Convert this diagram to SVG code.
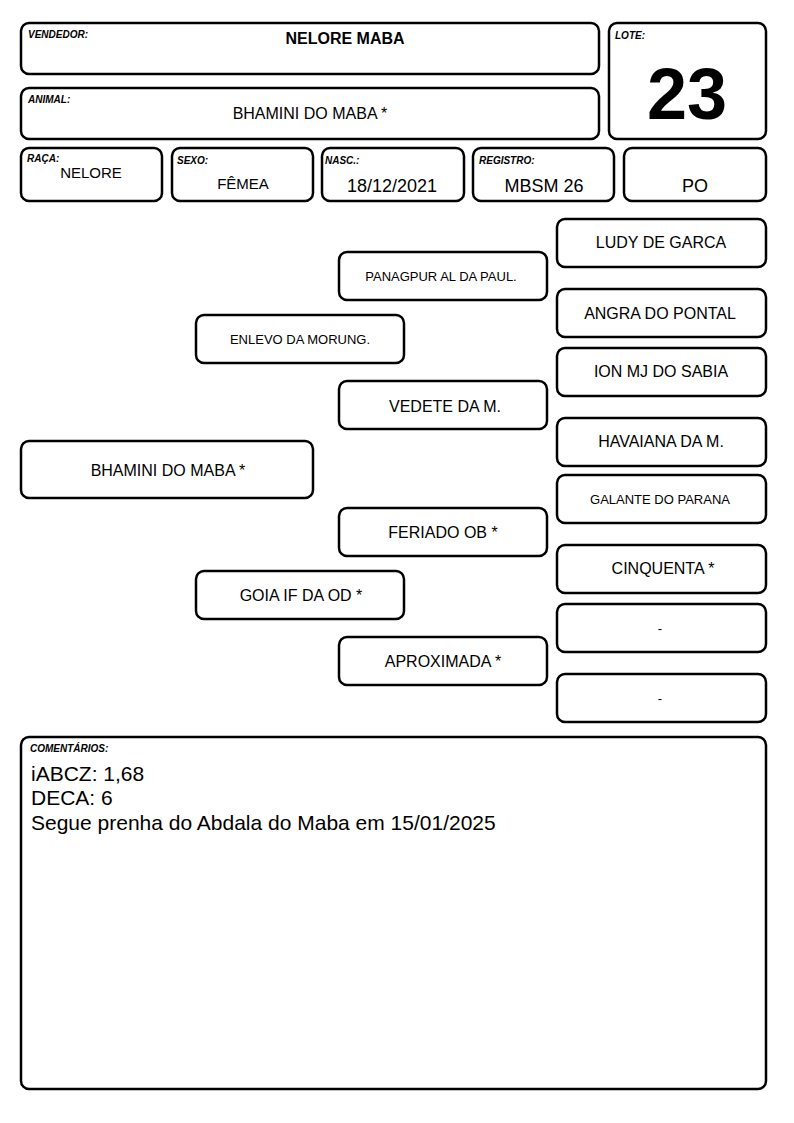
<svg xmlns="http://www.w3.org/2000/svg" width="794" height="1123" viewBox="0 0 794 1123">
<style>
.b{fill:#fff;stroke:#000;stroke-width:2.5}
.l{font-family:"Liberation Sans",Arial,sans-serif;font-size:10px;font-weight:bold;font-style:italic;fill:#000}
.t{font-family:"Liberation Sans",Arial,sans-serif;fill:#000;text-anchor:middle}
.s13{font-size:13px}.s15{font-size:15px}.s16{font-size:16px}.s18{font-size:18px}
.c{font-family:"Liberation Sans",Arial,sans-serif;font-size:21px;fill:#000}
</style>
<rect width="794" height="1123" fill="#fff"/>
<g id="vendedor"><rect class="b" x="21" y="23" width="578" height="51" rx="8"/><text class="l" x="28" y="38">VENDEDOR:</text><text class="t s16" x="345" y="44" font-weight="bold">NELORE MABA</text></g>
<g id="lote"><rect class="b" x="609" y="23" width="157" height="116" rx="8"/><text class="l" x="615" y="39">LOTE:</text><text class="t" x="687" y="119" font-size="72" font-weight="bold">23</text></g>
<g id="animal"><rect class="b" x="21" y="88" width="578" height="51" rx="8"/><text class="l" x="28" y="103">ANIMAL:</text><text class="t s16" x="310" y="119">BHAMINI DO MABA *</text></g>
<g id="raca"><rect class="b" x="21" y="148" width="141" height="53" rx="8"/><text class="l" x="27" y="162">RAÇA:</text><text class="t s15" x="91" y="178">NELORE</text></g>
<g id="sexo"><rect class="b" x="172" y="148" width="141" height="53" rx="8"/><text class="l" x="177" y="164">SEXO:</text><text class="t s15" x="243" y="189">FÊMEA</text></g>
<g id="nasc"><rect class="b" x="322" y="148" width="142" height="53" rx="8"/><text class="l" x="325" y="164">NASC.:</text><text class="t s18" x="392" y="192">18/12/2021</text></g>
<g id="registro"><rect class="b" x="473" y="148" width="141" height="53" rx="8"/><text class="l" x="479" y="164">REGISTRO:</text><text class="t s18" x="544" y="192">MBSM 26</text></g>
<g id="po"><rect class="b" x="624" y="148" width="142" height="53" rx="8"/><text class="t s18" x="695" y="192">PO</text></g>
<g id="connectors"></g>
<g id="n-bhamini"><rect class="b" x="21" y="441" width="292" height="57" rx="8"/><text class="t s16" x="168" y="476">BHAMINI DO MABA *</text></g>
<g id="n-enlevo"><rect class="b" x="196" y="315" width="208" height="48" rx="8"/><text class="t s13" x="300" y="344">ENLEVO DA MORUNG.</text></g>
<g id="n-goia"><rect class="b" x="196" y="571" width="208" height="48" rx="8"/><text class="t s16" x="301" y="601">GOIA IF DA OD *</text></g>
<g id="n-panagpur"><rect class="b" x="339" y="252" width="208" height="48" rx="8"/><text class="t s13" x="441" y="281">PANAGPUR AL DA PAUL.</text></g>
<g id="n-vedete"><rect class="b" x="339" y="381" width="208" height="48" rx="8"/><text class="t s16" x="445" y="412">VEDETE DA M.</text></g>
<g id="n-feriado"><rect class="b" x="339" y="508" width="208" height="48" rx="8"/><text class="t s16" x="443" y="538">FERIADO OB *</text></g>
<g id="n-aproximada"><rect class="b" x="339" y="637" width="208" height="48" rx="8"/><text class="t s16" x="443" y="667">APROXIMADA *</text></g>
<g id="n-ludy"><rect class="b" x="557" y="219" width="209" height="48" rx="8"/><text class="t s16" x="661" y="248">LUDY DE GARCA</text></g>
<g id="n-angra"><rect class="b" x="557" y="289" width="209" height="48" rx="8"/><text class="t s16" x="660" y="319">ANGRA DO PONTAL</text></g>
<g id="n-ion"><rect class="b" x="557" y="348" width="209" height="48" rx="8"/><text class="t s16" x="661" y="377">ION MJ DO SABIA</text></g>
<g id="n-havaiana"><rect class="b" x="557" y="418" width="209" height="48" rx="8"/><text class="t s16" x="661" y="447">HAVAIANA DA M.</text></g>
<g id="n-galante"><rect class="b" x="557" y="475" width="209" height="48" rx="8"/><text class="t s13" x="660" y="504">GALANTE DO PARANA</text></g>
<g id="n-cinquenta"><rect class="b" x="557" y="545" width="209" height="48" rx="8"/><text class="t s16" x="663" y="574">CINQUENTA *</text></g>
<g id="n-blank1"><rect class="b" x="557" y="604" width="209" height="48" rx="8"/><text class="t s13" x="660" y="633">-</text></g>
<g id="n-blank2"><rect class="b" x="557" y="674" width="209" height="48" rx="8"/><text class="t s13" x="660" y="703">-</text></g>
<g id="comentarios"><rect class="b" x="21" y="737" width="745" height="352" rx="8"/><text class="l" x="30" y="752">COMENTÁRIOS:</text>
<text class="c" x="31" y="781">iABCZ: 1,68</text><text class="c" x="31" y="805">DECA: 6</text><text class="c" x="31" y="830">Segue prenha do Abdala do Maba em 15/01/2025</text></g>
</svg>
